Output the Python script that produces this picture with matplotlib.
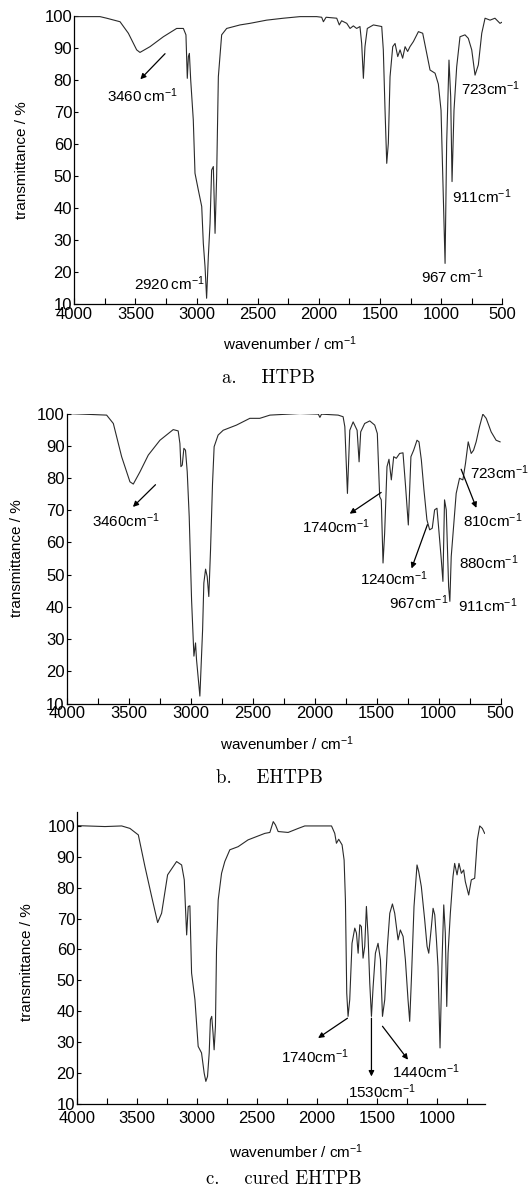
import numpy as np
import matplotlib
matplotlib.use('Agg')
import matplotlib.pyplot as plt

plt.rcParams['font.family'] = ['Liberation Sans', 'DejaVu Sans']
plt.rcParams['mathtext.fontset'] = 'custom'
plt.rcParams['mathtext.rm'] = 'Liberation Sans'
plt.rcParams['mathtext.it'] = 'Liberation Sans:italic'
plt.rcParams['mathtext.sf'] = 'Liberation Sans'

# ---- spectra: wavenumber (cm-1), transmittance (%) ----
htpb_wn = [4000, 3994, 3790, 3735, 3626, 3558, 3490, 3463, 3381, 3272, 3163, 3108, 3087, 3076,
           3067, 3059, 3048, 3027, 3013, 2986, 2958, 2945, 2931, 2918, 2904, 2890, 2877, 2863,
           2849, 2836, 2822, 2795, 2754, 2645, 2563, 2427, 2290, 2154, 2018, 1977, 1963, 1941,
           1854, 1833, 1814, 1772, 1745, 1718, 1691, 1664, 1650, 1636, 1623, 1604, 1554, 1486,
           1473, 1459, 1445, 1432, 1418, 1396, 1377, 1355, 1336, 1315, 1295, 1274, 1255, 1227,
           1186, 1151, 1118, 1091, 1050, 1023, 1001, 968, 955, 936, 922, 911, 895, 873, 846,
           805, 778, 750, 723, 696, 668, 641, 600, 560, 519, 500]
htpb_t = [100, 99.9, 99.9, 99.4, 98.3, 94.7, 89.5, 88.7, 90.5, 93.6, 96.2, 96.2, 94.2, 80.6,
          87.4, 88.4, 80.0, 67.6, 50.9, 45.7, 40.5, 29.0, 21.7, 11.8, 24.8, 35.2, 51.9, 53.0,
          32.1, 49.8, 81.1, 94.2, 96.2, 97.3, 97.8, 98.8, 99.4, 99.9, 99.9, 99.7, 98.3, 99.7,
          99.4, 97.3, 98.6, 97.8, 96.2, 97.0, 96.2, 96.8, 91.5, 80.6, 90.5, 96.2, 97.3, 96.8,
          89.5, 70.7, 54.0, 60.3, 81.1, 90.5, 91.5, 87.4, 89.5, 86.9, 90.5, 89.0, 90.5, 92.1,
          95.2, 94.7, 88.4, 83.2, 82.2, 78.8, 70.6, 22.7, 60.3, 86.3, 74.8, 48.3, 70.6, 84.2, 93.6,
          94.2, 93.1, 89.5, 81.6, 84.8, 94.7, 99.4, 98.8, 99.4, 97.8, 98.2]

ehtpb_wn = [4000, 3678, 3624, 3557, 3490, 3463, 3409, 3342, 3248, 3141, 3101, 3087, 3079, 3068,
            3055, 3042, 3028, 3012, 2993, 2974, 2961, 2953, 2926, 2904, 2894, 2880, 2867, 2854,
            2840, 2824, 2811, 2779, 2738, 2631, 2523, 2443, 2361, 2119, 1971, 1958, 1945, 1811,
            1771, 1757, 1736, 1717, 1690, 1658, 1642, 1629, 1597, 1556, 1516, 1495, 1476, 1463,
            1449, 1436, 1417, 1401, 1382, 1363, 1342, 1315, 1288, 1267, 1245, 1224, 1202, 1175,
            1159, 1140, 1119, 1095, 1073, 1052, 1033, 1014, 998, 979, 966, 953, 939, 920, 910,
            899, 880, 859, 832, 805, 784, 762, 738, 719, 698, 671, 644, 617, 577, 537, 505]
ehtpb_t = [100, 99.5, 96.9, 86.6, 78.8, 78.1, 81.9, 87.1, 91.7, 95.0, 94.6, 90.7, 83.5, 84.0,
           89.2, 88.6, 81.9, 68.0, 42.2, 24.7, 28.8, 23.6, 12.3, 32.9, 47.4, 51.7, 49.4, 43.2,
           57.7, 78.3, 89.7, 93.3, 94.8, 96.4, 98.5, 98.5, 99.5, 100, 99.8, 98.8, 99.8, 99.5,
           99.0, 95.9, 75.2, 94.8, 97.4, 94.8, 85.0, 94.3, 96.9, 97.7, 96.4, 93.8, 74.2, 73.2,
           53.6, 62.8, 83.5, 85.8, 79.4, 86.6, 86.1, 87.6, 87.8, 77.3, 65.4, 86.6, 88.6, 91.7,
           91.2, 85.6, 76.3, 67.0, 63.9, 64.4, 70.1, 70.6, 63.4, 54.6, 47.9, 73.2, 70.1, 46.3, 41.7,
           55.6, 64.9, 75.2, 79.9, 79.4, 84.5, 91.2, 87.6, 88.6, 91.2, 95.9, 99.8, 98.5, 94.3, 91.7, 91.2]

cured_wn = [4000, 3769, 3630, 3561, 3491, 3436, 3380, 3330, 3297, 3247, 3172, 3130, 3108, 3088,
            3075, 3061, 3047, 3019, 2992, 2964, 2942, 2928, 2914, 2900, 2890, 2879, 2868, 2859,
            2848, 2839, 2825, 2797, 2770, 2728, 2659, 2576, 2436, 2394, 2366, 2347, 2325, 2242,
            2158, 2103, 1880, 1853, 1839, 1820, 1792, 1775, 1764, 1753, 1742, 1728, 1709, 1686,
            1672, 1658, 1644, 1631, 1617, 1603, 1589, 1575, 1561, 1547, 1533, 1514, 1492, 1472,
            1455, 1436, 1414, 1394, 1372, 1353, 1325, 1306, 1283, 1264, 1242, 1228, 1214, 1192,
            1167, 1153, 1131, 1103, 1083, 1069, 1047, 1033, 1019, 1005, 992, 975, 958, 944, 931,
            919, 908, 889, 867, 853, 833, 817, 797, 778, 764, 736, 714, 686, 664, 644, 622, 603]
cured_t = [100, 99.7, 99.9, 99.1, 97.0, 86.8, 77.1, 68.7, 71.7, 84.1, 88.4, 87.3, 82.5, 64.7,
           73.9, 74.1, 52.4, 43.8, 28.7, 26.6, 20.1, 17.4, 19.0, 26.6, 37.3, 38.4, 33.0, 27.6,
           35.2, 59.9, 76.0, 84.6, 88.4, 92.2, 93.2, 95.4, 97.5, 97.8, 101.3, 100.2, 98.1, 97.8,
           99.1, 99.9, 99.9, 97.5, 94.3, 95.6, 93.8, 88.9, 76.0, 45.9, 38.4, 43.8, 62.0, 66.9,
           65.3, 58.8, 68.0, 67.4, 57.2, 61.0, 73.9, 64.2, 49.1, 38.4, 48.0, 58.8, 62.0, 56.7,
           38.4, 43.8, 61.0, 71.7, 74.7, 71.7, 63.1, 66.3, 64.2, 56.7, 43.8, 36.8, 50.2, 73.9,
           87.3, 85.2, 80.3, 69.6, 61.0, 58.8, 67.4, 73.3, 71.2, 63.1, 54.5, 28.2, 56.7, 74.4, 65.3,
           41.6, 58.8, 71.7, 83.5, 87.8, 84.1, 87.8, 84.6, 85.7, 81.9, 77.6, 82.5, 83.0, 95.4, 99.9, 99.1, 97.5]

# peak labels: (text, x, y)
htpb_labels = [('3460\u2009cm$^{-1}$', 3441, 75.3), ('2920\u2009cm$^{-1}$', 3225, 16.5),
               ('723cm$^{-1}$', 597, 77.4), ('911cm$^{-1}$', 666, 43.5),
               ('967\u2009cm$^{-1}$', 909, 18.5)]
htpb_arrows = [((3258, 88.3), (3460, 80.3))]

ehtpb_labels = [('3460cm$^{-1}$', 3523, 66.6), ('1740cm$^{-1}$', 1827, 65.0),
                ('1240cm$^{-1}$', 1363, 48.6), ('967cm$^{-1}$', 1159, 41.4),
                ('810cm$^{-1}$', 560, 66.6), ('723cm$^{-1}$', 511, 81.5),
                ('880cm$^{-1}$', 598, 53.7), ('911cm$^{-1}$', 606, 40.5)]
ehtpb_arrows = [((3284, 77.9), (3466, 71.0)), ((1464, 75.5), (1718, 68.9)),
                ((1091, 65.5), (1219, 51.9)), ((819, 82.7), (696, 70.7))]

cured_labels = [('1740cm$^{-1}$', 2019, 25.5), ('1530cm$^{-1}$', 1458, 14.2),
                ('1440cm$^{-1}$', 1088, 20.6)]
cured_arrows = [((1747, 37.8), (1992, 31.4)), ((1547, 37.8), (1547, 19.0)),
                ((1455, 35.2), (1242, 24.4))]

W, H = 530, 1187
fig = plt.figure(figsize=(W / 100, H / 100), dpi=100)


def px_axes(l, r, t, b):
    return fig.add_axes([l / W, 1 - b / H, (r - l) / W, (b - t) / H])


def draw_panel(ax, wn, t, labels, arrows, xlim, ylim, xticks, xpad=1.5):
    ax.plot(wn, t, color='#2a2a2a', lw=0.8)
    ax.set_xlim(*xlim)
    ax.set_ylim(*ylim)
    ax.spines['top'].set_visible(False)
    ax.spines['right'].set_visible(False)
    for s in ('left', 'bottom'):
        ax.spines[s].set_linewidth(0.9)
    ax.set_xticks(xticks)
    ax.set_xticks([x - 250 for x in xticks if x - 250 > min(xlim)], minor=True)
    ax.set_yticks(range(10, 101, 10))
    ax.tick_params(axis='both', which='both', direction='in', labelsize=12)
    ax.tick_params(axis='x', which='both', length=4, width=0.8, pad=xpad)
    ax.tick_params(axis='y', length=3, width=0.8, pad=1.5)
    for txt, x, y in labels:
        ax.text(x, y, txt, ha='center', va='center', fontsize=11, clip_on=False)
    for (x0, y0), (x1, y1) in arrows:
        ax.annotate('', xy=(x1, y1), xytext=(x0, y0),
                    arrowprops=dict(arrowstyle='-|>', lw=0.9, color='k',
                                    mutation_scale=8, shrinkA=0, shrinkB=0))


ax_a = px_axes(74.3, 502.3, 16.3, 304)
draw_panel(ax_a, htpb_wn, htpb_t, htpb_labels, htpb_arrows, (4000, 500), (10, 100),
           list(range(4000, 499, -500)), xpad=2)

ax_b = px_axes(66.7, 500.7, 413.5, 703.5)
draw_panel(ax_b, ehtpb_wn, ehtpb_t, ehtpb_labels, ehtpb_arrows, (4000, 500), (10, 100),
           list(range(4000, 499, -500)), xpad=2)

ax_c = px_axes(77.3, 485, 811.7, 1104.3)
draw_panel(ax_c, cured_wn, cured_t, cured_labels, cured_arrows, (4000, 600), (10, 104.5),
           list(range(4000, 999, -500)), xpad=5)

# axis titles and captions placed in figure pixels
ylab_pos = [(22, 160), (17, 558), (27, 962)]
xlab_pos = [(290, 344), (287, 744), (296, 1152)]
captions = [('a.    HTPB', 268, 378), ('b.    EHTPB', 269, 778), ('c.    cured EHTPB', 284, 1179)]

for x, y in ylab_pos:
    fig.text(x / W, 1 - y / H, 'transmittance / %', rotation=90, ha='center', va='center',
             fontsize=11)
for x, y in xlab_pos:
    fig.text(x / W, 1 - y / H, 'wavenumber / cm$^{-1}$', ha='center', va='center', fontsize=11)
for txt, x, y in captions:
    fig.text(x / W, 1 - y / H, txt, ha='center', va='center', fontsize=13.5,
             family=['cmr10', 'Liberation Serif'], fontweight='bold')

fig.savefig('out.png', dpi=100)
